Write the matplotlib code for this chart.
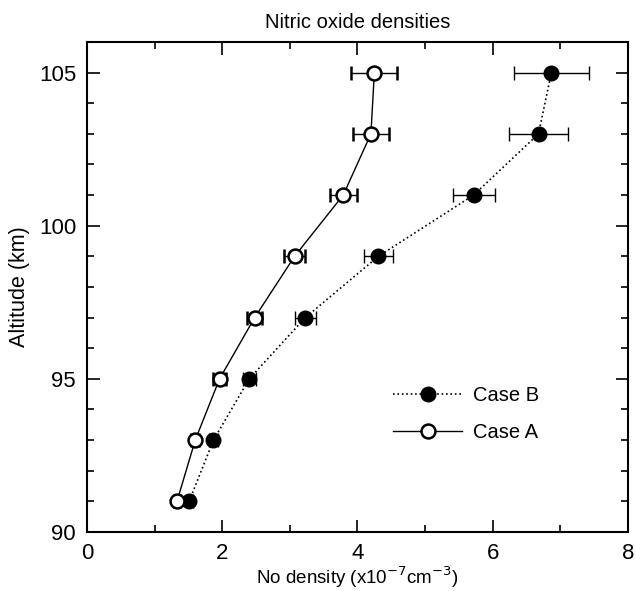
import numpy as np
import matplotlib.pyplot as plt
from matplotlib.lines import Line2D
from matplotlib.ticker import MultipleLocator

plt.rcParams['font.family'] = ['Liberation Sans', 'DejaVu Sans']

# -----------------------
# Data
# -----------------------
altitude = [91, 93, 95, 97, 99, 101, 103, 105]

case_a = [1.33, 1.60, 1.96, 2.48, 3.07, 3.79, 4.20, 4.25]
case_a_err = [0.05, 0.06, 0.09, 0.11, 0.15, 0.20, 0.27, 0.34]

case_b = [1.51, 1.87, 2.40, 3.23, 4.31, 5.72, 6.68, 6.87]
case_b_err = [0.05, 0.06, 0.10, 0.15, 0.22, 0.31, 0.44, 0.55]

fig = plt.figure(figsize=(6.36, 5.91), dpi=100)
ax = fig.add_axes([0.137, 0.100, 0.850, 0.829])

style_b = dict(color='black', linestyle=':', linewidth=1.2, marker='o',
               markersize=10.5)
style_a = dict(color='black', linestyle='-', linewidth=1, marker='o',
               markersize=10, markerfacecolor='white', markeredgewidth=1.8)

ax.errorbar(case_b, altitude, xerr=case_b_err, capsize=5,
            elinewidth=1, capthick=1, **style_b)
ax.errorbar(case_a, altitude, xerr=case_a_err, capsize=5,
            elinewidth=1, capthick=1, **style_a)

ax.set_xlim(0, 8)
ax.set_ylim(90, 106)
ax.xaxis.set_major_locator(MultipleLocator(2))
ax.xaxis.set_minor_locator(MultipleLocator(1))
ax.yaxis.set_major_locator(MultipleLocator(5))
ax.yaxis.set_minor_locator(MultipleLocator(1))
ax.tick_params(which='both', direction='in', top=True, right=True,
               labelsize=16, width=1.2)
ax.tick_params(which='major', length=9, pad=8)
ax.tick_params(which='minor', length=5)
for s in ax.spines.values():
    s.set_linewidth(1.5)

ax.set_title('Nitric oxide densities', fontsize=14.5, pad=10)
ax.set_xlabel(r'No density (x10$^{-7}$cm$^{-3}$)', fontsize=13.5, labelpad=0)
ax.set_ylabel('Altitude (km)', fontsize=15.5, labelpad=6)

handles = [Line2D([], [], **style_b), Line2D([], [], **style_a)]
ax.legend(handles, ['Case B', 'Case A'], loc='center left',
          bbox_to_anchor=(0.548, 0.24), frameon=False, borderpad=0,
          fontsize=14.5, handlelength=3.4, numpoints=1, labelspacing=0.9,
          handletextpad=0.55)

fig.savefig('out.png', dpi=100)
